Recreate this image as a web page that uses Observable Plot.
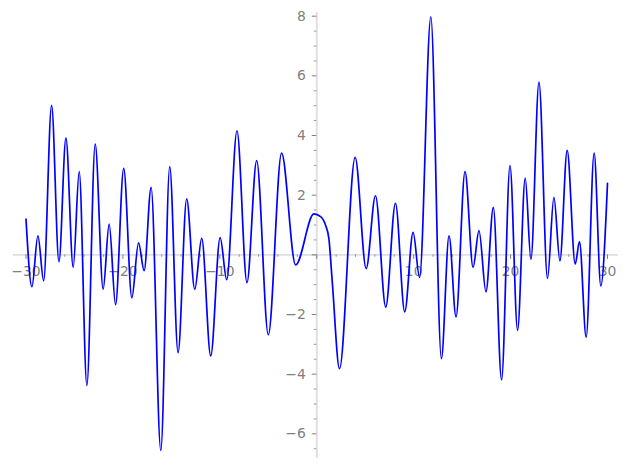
<!DOCTYPE html>
<html>
<head>
<meta charset="utf-8">
<script src="https://cdn.jsdelivr.net/npm/d3@7"></script>
<script src="https://cdn.jsdelivr.net/npm/@observablehq/plot@0.6"></script>
<style>
  html, body { margin: 0; padding: 0; background: #fff; }
  #chart svg { display: block; }
</style>
</head>
<body>
<div id="chart"></div>
<script>
// Curve points (start, extrema, a few shoulder points, end)
const curveX = [-30, -29.39, -28.77, -28.18, -27.36, -26.6, -25.88, -25.13, -24.51, -23.72,
  -22.86, -22.04, -21.42, -20.76, -19.92, -19.08, -18.39, -17.81, -17.09, -16.09,
  -15.17, -14.31, -13.42, -12.59, -11.87, -10.94, -9.97, -9.29, -8.23, -7.20,
  -6.20, -5.0, -3.63, -2.18, -0.3, 0.4, 0.9, 1.25, 1.6,
  2.35, 3.96, 5.1, 6.06,
  7.12, 8.12, 9.08, 9.94, 10.61, 11.77, 12.86, 13.65, 14.37, 15.30,
  16.13, 16.74, 17.46, 18.22, 19.07, 19.94, 20.72, 21.51, 22.1, 22.93,
  23.81, 24.47, 25.09, 25.84, 26.67, 27.11, 27.8, 28.62, 29.31, 30];
const curveY = [1.2, -1.07, 0.64, -0.87, 5.01, -0.23, 3.91, -0.42, 2.79, -4.38,
  3.71, -1.15, 1.03, -1.67, 2.90, -1.44, 0.40, -0.53, 2.26, -6.56,
  2.96, -3.28, 1.88, -1.16, 0.55, -3.39, 0.58, -0.83, 4.16, -0.93,
  3.16, -2.68, 3.41, -0.34, 1.37, 1.28, 1.0, 0.55, -0.9,
  -3.82, 3.27, -0.46, 1.98,
  -1.75, 1.73, -1.91, 0.75, -0.76, 7.98, -3.48, 0.64, -2.08, 2.79,
  -0.42, 0.81, -1.24, 1.59, -4.19, 2.99, -2.53, 2.57, -0.15, 5.79,
  -0.79, 1.93, -0.20, 3.50, -0.31, 0.44, -2.76, 3.41, -1.04, 2.4];

// Axis ticks and labels
const xMajorTicks = [-30, -20, -10, 0, 10, 20, 30];
const xMinorTicks = d3.range(-30, 31, 2).filter(v => v % 10 !== 0);
const xTickValues = [-30, -20, -10, 10, 20, 30];
const xTickLabels = ["−30", "−20", "−10", "10", "20", "30"];
const yMajorTicks = [-6, -4, -2, 0, 2, 4, 6, 8];
const yMinorTicks = d3.range(-6.5, 8.01, 0.5).filter(v => v % 2 !== 0);
const yTickValues = [-6, -4, -2, 2, 4, 6, 8];
const yTickLabels = ["−6", "−4", "−2", "2", "4", "6", "8"];
const xAxisExtent = [-31.3, 31.1];
const yAxisExtent = [-6.83, 8.12];

const points = curveX.map((x, i) => ({x, y: curveY[i]}));
const xLab = xTickValues.map((v, i) => ({v, t: xTickLabels[i]}));
const yLab = yTickValues.map((v, i) => ({v, t: yTickLabels[i]}));

const axisColor = "#dedede";
const tickColor = "#707070";
const labelColor = "#808080";
const font = "DejaVu Sans, sans-serif";

const chart = Plot.plot({
  width: 627,
  height: 469,
  x: {domain: [-30, 30], range: [25.5, 607], axis: null},
  y: {domain: [-6, 8], range: [433.3, 15.7], axis: null},
  style: {fontFamily: font, background: "#fff"},
  marks: [
    // axis lines
    Plot.ruleY([0], {x1: xAxisExtent[0], x2: xAxisExtent[1], stroke: axisColor, strokeWidth: 1.8}),
    Plot.ruleX([0], {y1: yAxisExtent[0], y2: yAxisExtent[1], stroke: axisColor, strokeWidth: 1.8}),
    // x ticks (downward)
    Plot.ruleX(xMajorTicks, {x: d => d, y1: 0, y2: 0, insetBottom: -4.5, stroke: tickColor, strokeWidth: 0.9}),
    Plot.ruleX(xMinorTicks, {x: d => d, y1: 0, y2: 0, insetBottom: -2.5, stroke: tickColor, strokeWidth: 0.7}),
    // y ticks (leftward)
    Plot.ruleY(yMajorTicks, {y: d => d, x1: 0, x2: 0, insetLeft: -4.5, stroke: tickColor, strokeWidth: 0.9}),
    Plot.ruleY(yMinorTicks, {y: d => d, x1: 0, x2: 0, insetLeft: -2.5, stroke: tickColor, strokeWidth: 0.7}),
    // tick labels
    Plot.text(xLab, {x: "v", y: 0, text: "t", lineAnchor: "top", dy: 11, fill: labelColor, fontSize: 13.9}),
    Plot.text(yLab, {x: 0, y: "v", text: "t", textAnchor: "end", lineAnchor: "middle", dx: -11, fill: labelColor, fontSize: 13.9}),
    // curve
    Plot.line(points, {x: "x", y: "y", curve: "monotone-x", stroke: "#0000ff", strokeWidth: 1.7})
  ]
});
document.getElementById("chart").append(chart);
</script>
</body>
</html>
